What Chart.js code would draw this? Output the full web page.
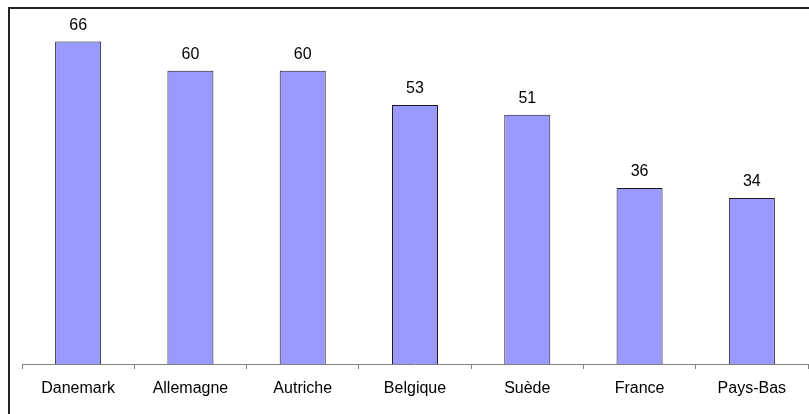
<!DOCTYPE html>
<html>
<head>
<meta charset="utf-8">
<script src="https://cdn.jsdelivr.net/npm/chart.js@4/dist/chart.umd.min.js"></script>
<style>
  html, body { margin: 0; padding: 0; background: #fff; }
  #wrap { width: 809px; height: 414px; }
</style>
</head>
<body>
<div id="wrap"><canvas id="c" width="809" height="414"></canvas></div>
<script>
// Categories and values
const countries = ['Danemark', 'Allemagne', 'Autriche', 'Belgique', 'Suède', 'France', 'Pays-Bas'];
const values = [66, 60, 60, 53, 51, 36, 34];

const FONT = '"Liberation Sans", Arial, sans-serif';

// Outer frame: top and left edges of the chart box
const framePlugin = {
  id: 'frame',
  beforeDraw(chart) {
    const ctx = chart.ctx;
    ctx.save();
    ctx.strokeStyle = '#222';
    ctx.lineWidth = 2;
    ctx.beginPath();
    ctx.moveTo(9, 414);
    ctx.lineTo(9, 8);
    ctx.lineTo(809, 8);
    ctx.stroke();
    ctx.restore();
  }
};

// Value labels above each bar
const valueLabels = {
  id: 'valueLabels',
  afterDatasetsDraw(chart) {
    const ctx = chart.ctx;
    const meta = chart.getDatasetMeta(0);
    const data = chart.data.datasets[0].data;
    ctx.save();
    ctx.font = '16px ' + FONT;
    ctx.fillStyle = '#000';
    ctx.textAlign = 'center';
    ctx.textBaseline = 'alphabetic';
    meta.data.forEach((bar, i) => {
      ctx.fillText(String(data[i]), bar.x, bar.y - 12);
    });
    ctx.restore();
  }
};

new Chart(document.getElementById('c'), {
  type: 'bar',
  data: {
    labels: countries,
    datasets: [{
      data: values,
      backgroundColor: '#9999FF',
      borderColor: '#1a1a1a',
      borderWidth: 1,
      categoryPercentage: 1,
      barPercentage: 0.41
    }]
  },
  options: {
    responsive: false,
    animation: false,
    devicePixelRatio: 1,
    layout: { padding: { left: 22, right: 1, top: 22, bottom: 0 } },
    plugins: {
      legend: { display: false },
      tooltip: { enabled: false }
    },
    scales: {
      x: {
        afterFit(scale) { scale.height = 50; },
        grid: {
          display: true,
          offset: true,
          drawOnChartArea: false,
          drawTicks: true,
          tickLength: 5,
          color: '#808080'
        },
        border: { display: true, color: '#808080', width: 1 },
        ticks: {
          autoSkip: false,
          maxRotation: 0,
          padding: 10,
          color: '#000',
          font: { family: FONT, size: 16 }
        }
      },
      y: {
        display: false,
        min: 0,
        max: 70
      }
    }
  },
  plugins: [framePlugin, valueLabels]
});
</script>
</body>
</html>
